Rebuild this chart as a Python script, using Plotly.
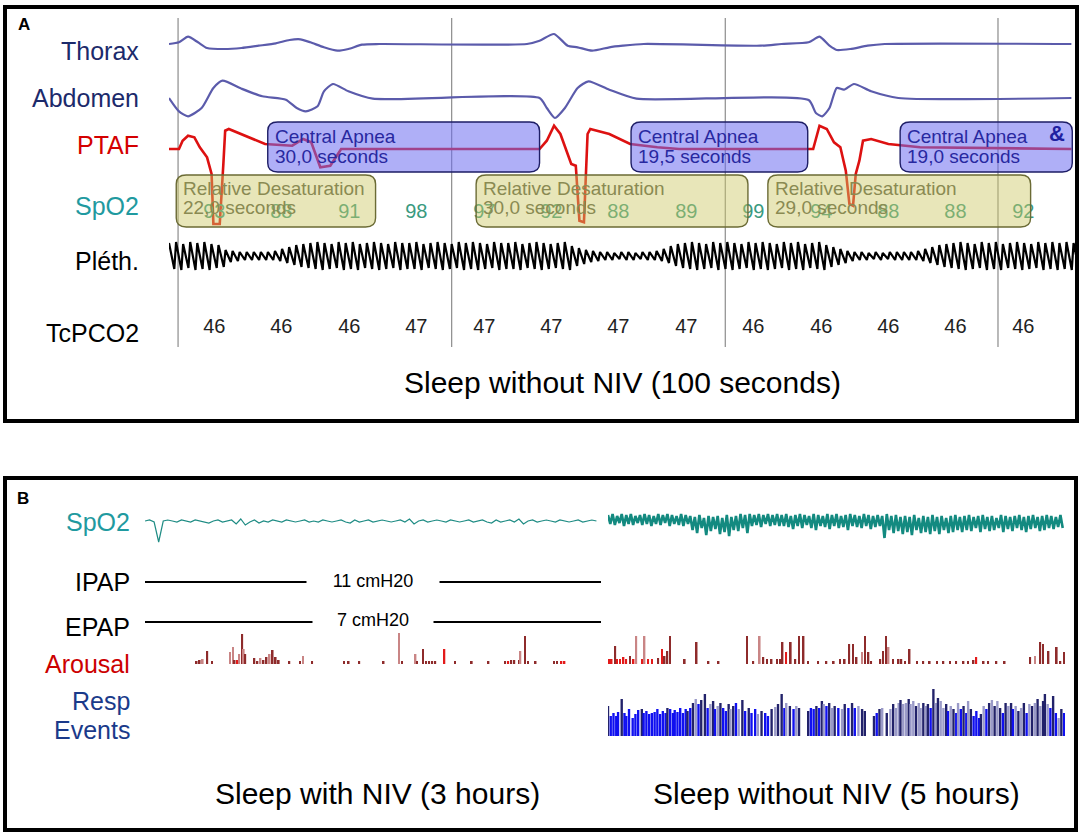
import plotly.graph_objects as go

W, H = 1084, 840
FONT = "Liberation Sans, Arial, sans-serif"

# ---------------- panel A: 100 s of sleep without NIV (time in seconds) ----------------
grid_t = [1.0, 31.2, 61.4, 91.5]

thorax_t = [0, 1.1, 2.1, 3.2, 4.2, 6.1, 8.0, 9.9, 11.8, 13.3, 14.5, 15.6, 17.1, 18.6, 19.8, 21.3, 23.2,
            39.5, 40.9, 42.5, 44.0, 45.1, 46.7, 48.6, 50.1, 52.4, 65.3, 67.6,
            70.6, 71.8, 72.9, 73.7, 75.2, 77.1, 79.0, 99.6]
thorax_v = [0, 1.7, 7.3, 1.7, -4, -5, -4, -1.7, 0.7, 4, 4.7, 1.7, -3.3, -6.7, -5, -0.7, 0,
            0, 3.3, 10, -1.7, -3.3, -6.7, -3.3, -1.7, 0, -1.7, 0,
            1.7, 7.3, -1.7, -6, -5, -1.7, 0, 0]

abdomen_t = [0, 1.1, 2.1, 3.6, 4.9, 5.9, 8.0, 10.3, 12.9, 14.1, 15.1, 16.4, 17.1, 18.1, 19.8, 22.5,
             40.9, 41.7, 42.6, 43.7, 45.1, 46.3, 48.6, 51.6,
             70.6, 71.4, 72.1, 72.9, 73.7, 74.5, 75.6, 77.5, 80.5, 99.6]
abdomen_v = [0, -13.3, -18.3, -10, 10, 17.3, 9.3, 1.7, -1.7, -10, -13.3, -8.3, 6.7, 14, 6.7, -0.7,
             0, -10, -20, -10, 10, 16.7, 8.3, -0.7,
             -2, -15, -18.3, -10, 10, 8.3, 14, 6.7, 0, 0]

ptaf_t = [0, 1.1, 1.5, 2.1, 2.8, 3.4, 4.2, 4.7, 4.9, 5.6, 6.0, 6.2, 6.6, 7.9, 10.6, 13.6, 14.8, 15.7, 16.7, 17.8, 19.0,
          40.9, 41.7, 42.5, 43.2, 44.4, 44.9, 45.3, 45.8, 46.2, 46.5, 48.6, 50.9, 53.9, 56.3,
          71.1, 71.8, 72.6, 73.4, 74.1, 74.7, 75.1, 75.5, 75.8, 76.2, 76.6, 77.5, 79.4, 82.9, 99.6]
ptaf_v = [0, 0, 8.3, 13.3, 11.7, 1.7, -8.3, -25, -75, -75, -15, 18.3, 20, 15, 5, 3.3, 10, 6.7, -18.3, -16.7, 0,
          0, 8.3, 23.3, 15, -15, -16.7, -71.7, -73.3, 15, 20, 15, 5, 1.7, 0,
          0, 23.3, 20, 6.7, 1.7, -21.7, -55, -56.7, -25, -11.7, 8.3, 10, 5, 1.7, 0]

beat_s = 0.78
pleth_amp = [13, 14, 12, 14, 13, 14, 12, 11,
             6, 5, 4, 4, 4, 4, 4, 5,
             7, 9, 11,
             12, 13, 14, 13, 12, 14, 13, 14, 12, 13,
             14, 13, 12, 14, 13, 13, 14, 12, 13, 14,
             13, 12, 14, 13, 14, 13, 12, 14, 13, 13,
             14, 12, 13, 14, 13, 12, 13, 14,
             10, 8, 6,
             5, 4, 4, 3, 4, 4, 3, 4, 4, 5,
             7, 10, 12,
             13, 14, 13, 12, 14, 13, 14, 13, 12, 14,
             13, 14, 13, 12, 14, 13, 14, 12, 13, 14, 11,
             9, 7, 5,
             4, 4, 3, 4, 3, 4, 4, 4, 4, 5,
             7, 9, 11,
             12, 13, 14, 13, 12, 14, 13, 14, 12, 13,
             14, 13, 12, 14, 13, 14, 13, 14, 13, 12]

val_t = [5.0, 12.4, 19.9, 27.3, 34.8, 42.2, 49.6, 57.1, 64.5, 72.0, 79.4, 86.8, 94.3]
spo2_vals = [93, 88, 91, 98, 97, 92, 88, 89, 99, 94, 88, 88, 92]
tcpco2_vals = [46, 46, 46, 47, 47, 47, 47, 47, 46, 46, 46, 46, 46]

apnea_start = [10.9, 51.0, 80.7]
apnea_dur = [30.0, 19.5, 19.0]
desat_start = [0.8, 33.9, 66.1]
desat_dur = [22.0, 30.0, 29.0]

# ---------------- panel B: whole night (time in hours) ----------------
spo2_niv_step = 0.03
spo2_niv = [95.5, 96, 95, 85, 95.5, 96, 95.5, 95, 96, 95.5,
            95, 96, 95.5, 95, 94.5, 95.5, 96, 95, 95.5, 96,
            94, 96.5, 93.5, 95, 96, 94.5, 95.5, 95, 96, 95.5,
            95, 96, 95.5, 95, 95.5, 96, 95, 95.5, 95, 96,
            95.5, 95, 95.5, 96, 95, 94.5, 96, 95, 95.5, 96,
            95, 95.5, 96, 95.5, 95, 95.5, 96, 95, 96.5, 94,
            95.5, 96, 95, 95.5, 96, 95.5, 95, 96, 95.5, 95,
            95.5, 96, 95, 95.5, 96, 95, 94.5, 96, 95, 95.5,
            96, 95, 96.5, 94, 95.5, 96, 95, 95.5, 96, 95.5,
            95, 96, 95.5, 95, 95.5, 96, 95, 95.5, 96, 95.5]

spo2_off_step = 0.05
spo2_off_hi = [98.5, 99, 98, 99, 98.5, 99, 98, 98.5, 99, 98.5, 98, 99, 98.5, 99, 98.5, 98, 99, 98.5,
               98, 97.5, 98.5, 97, 98, 97.5, 98, 97, 98.5, 97.5, 98, 99, 98.5,
               99, 98.5, 99, 98.5, 99, 98.5, 99,
               98.5, 99, 98, 98.5, 99, 98.5, 98, 99, 98.5, 98, 99, 98.5, 99, 98, 98.5, 99, 98.5, 98, 99, 98.5, 98, 98.5,
               98,
               99, 98, 98.5, 97.5, 98, 97.5, 98.5, 97, 98, 97.5, 98.5, 97.5, 98, 97, 98, 98.5, 97.5,
               98, 98.5, 97.5, 98, 98.5, 97.5, 98, 97, 98.5, 98, 97.5, 98, 98.5, 97.5, 98, 98.5, 97.5, 98, 98.5, 98, 97.5, 98.5]
spo2_off_lo = [94, 93.5, 94.5, 93, 94, 93.5, 94.5, 93.5, 94, 93, 94, 93.5, 94.5, 93, 94, 93.5, 93, 94,
               91, 89.5, 92, 88.5, 90.5, 91.5, 89, 90, 88, 91, 90.5, 92, 89.5,
               93, 93.5, 92.5, 94, 93, 93.5, 93,
               93, 92.5, 91.5, 93, 92, 93.5, 92, 91, 93, 92.5, 91.5, 93, 92, 92.5, 91, 93, 92.5, 92, 93, 91.5, 92.5, 93,
               87,
               91, 89.5, 90.5, 89, 90, 88.5, 91, 89.5, 90, 89, 90.5, 89, 91, 89.5, 90, 91, 90,
               91, 90.5, 92, 90, 91.5, 90.5, 91, 92, 90, 91.5, 90.5, 92, 91, 90, 91.5, 92, 90.5, 91, 92, 91.5, 92.5, 92]

ipap_cmh2o = 11
epap_cmh2o = 7

arousal_niv_t = [0.34, 0.36, 0.38, 0.41, 0.44,
                 0.56, 0.58, 0.59, 0.61, 0.62, 0.64, 0.65, 0.66,
                 0.72, 0.74, 0.76, 0.78, 0.80, 0.82, 0.84, 0.86, 0.88,
                 0.95, 1.02, 1.04, 1.10,
                 1.31, 1.34, 1.41,
                 1.57, 1.67, 1.69,
                 1.78, 1.79, 1.83, 1.85, 1.87, 1.89, 1.91, 1.97, 2.04, 2.15, 2.26,
                 2.37, 2.39, 2.41, 2.43, 2.46, 2.47, 2.50, 2.52, 2.57,
                 2.69, 2.71, 2.74, 2.76]
arousal_niv_dur = [3, 4, 5, 13, 3,
                   12, 17, 4, 4, 10, 30, 15, 10,
                   6, 3, 6, 4, 7, 10, 14, 7, 4,
                   3, 3, 8, 3,
                   3, 3, 3,
                   3, 31, 3,
                   10, 3, 15, 3, 3, 3, 3, 15, 3, 3, 3,
                   3, 3, 4, 4, 4, 13, 28, 3, 3,
                   3, 3, 3, 3]
arousal_niv_kind = "ddpdd" "ppdrpdpd" "ddpddpddd" "ddpd" "ddd" "dpd" "pddddddrddd" "drdddpddd" "ddrr"

arousal_off_t = [0.01, 0.04, 0.08, 0.10, 0.13, 0.17, 0.20, 0.24, 0.28, 0.31,
                 0.37, 0.40, 0.44, 0.48, 0.55, 0.59, 0.62, 0.65, 0.68,
                 0.84, 0.97, 1.10, 1.21,
                 1.52, 1.59, 1.66, 1.70, 1.74, 1.79, 1.85, 1.88, 1.91, 1.95, 2.00, 2.05, 2.09, 2.14, 2.19,
                 2.30, 2.39, 2.47, 2.54, 2.59, 2.64, 2.68, 2.72, 2.78, 2.81, 2.85, 2.88,
                 2.98, 3.01, 3.04, 3.07, 3.12, 3.18, 3.21, 3.25, 3.30,
                 3.38, 3.45, 3.52, 3.60, 3.67, 3.74, 3.81, 3.89, 3.94, 4.00, 4.03, 4.11, 4.16, 4.25, 4.34,
                 4.62, 4.67, 4.73, 4.76, 4.82, 4.91, 4.95, 4.99]
arousal_off_dur = [5, 5, 18, 5, 5, 7, 5, 8, 5, 28,
                   5, 28, 5, 5, 6, 15, 8, 13, 28,
                   5, 22, 3, 3,
                   28, 3, 28, 7, 5, 5, 5, 5, 22, 12, 22, 5, 28, 28, 3,
                   3, 3, 3, 5, 5, 20, 20, 7, 12, 28, 12, 3,
                   5, 13, 28, 17, 5, 5, 5, 3, 15,
                   3, 3, 3, 3, 3, 3, 3, 3, 3, 4, 7, 3, 3, 3, 3,
                   7, 8, 22, 20, 13, 17, 3, 12]
arousal_off_kind = ("rrdrrrrdrp" "rprrdrddd" "dddd" "ddpddddddrddddd" "ddddddddpddd"
                    "dddpddddd" "ddddddddddrdddd" "dpdddddd")

resp_t = [0.00, 0.03, 0.06, 0.09, 0.11, 0.15, 0.18, 0.20, 0.23, 0.27, 0.30, 0.33, 0.37, 0.39, 0.42, 0.45,
          0.48, 0.51, 0.54, 0.57, 0.60, 0.63, 0.65, 0.68, 0.71, 0.73, 0.76, 0.79, 0.82, 0.85, 0.87, 0.90,
          0.93, 0.96, 0.99, 1.02, 1.06, 1.09, 1.12, 1.15, 1.17, 1.20, 1.23, 1.26, 1.29, 1.32, 1.34, 1.37,
          1.40, 1.43, 1.47, 1.50, 1.54, 1.57, 1.61, 1.64, 1.68, 1.72, 1.75, 1.79, 1.83, 1.86, 1.90, 1.93,
          1.95, 1.99, 2.03, 2.06, 2.09,
          2.19, 2.22, 2.25, 2.28, 2.31, 2.34, 2.36, 2.39, 2.42, 2.45, 2.48, 2.52, 2.56, 2.59, 2.63, 2.67,
          2.70, 2.74, 2.78, 2.81,
          2.91, 2.94, 2.97, 3.00, 3.05, 3.09, 3.12, 3.15, 3.18, 3.20,
          3.23, 3.26, 3.29, 3.31, 3.34, 3.37, 3.40, 3.42, 3.45, 3.48,
          3.50, 3.53, 3.56, 3.59, 3.61, 3.64, 3.67, 3.70, 3.72, 3.75,
          3.78, 3.81, 3.83, 3.86, 3.89, 3.92, 3.94, 3.97, 4.00, 4.03,
          4.06, 4.08, 4.11, 4.14, 4.17, 4.20, 4.23, 4.26, 4.29, 4.32,
          4.35, 4.38, 4.41, 4.43, 4.46, 4.49, 4.52, 4.55, 4.58, 4.61,
          4.64, 4.67, 4.70, 4.73, 4.76, 4.78, 4.81, 4.84, 4.87, 4.90,
          4.93, 4.96, 4.99]
resp_dur = [30, 20, 23, 20, 24, 37, 23, 20, 27, 18, 22, 26, 27, 23, 25, 22,
            23, 24, 27, 22, 25, 23, 28, 27, 23, 26, 24, 28, 23, 27, 25, 28,
            33, 37, 32, 36, 42, 28, 32, 35, 27, 30, 33, 28, 25, 32, 27, 30,
            33, 27, 36, 25, 28, 23, 27, 22, 25, 23, 20, 27, 29, 32, 42, 28,
            33, 30, 27, 30, 28,
            25, 28, 27, 30, 28, 35, 32, 30, 33, 28, 30, 28, 27, 32, 28, 33,
            28, 30, 27, 25,
            20, 23, 27, 28, 23, 27, 32, 28, 33, 36,
            32, 33, 37, 32, 35, 30, 33, 28, 33, 30,
            32, 28, 47, 33, 38, 35, 28, 32, 25, 30,
            27, 23, 33, 27, 30, 23, 35, 27, 20, 25,
            18, 22, 30, 27, 33, 36, 30, 35, 28, 23,
            33, 30, 33, 27, 30, 25, 28, 33, 23, 32,
            30, 33, 37, 30, 35, 42, 32, 28, 40, 23,
            18, 27, 23]
resp_kind = ("NBBBBNBBBBBBNBBBBBBBBBNBBBBBBBNB"
             "NLBNNBLNBLNBBNLNBLNBNBBLNBBNLNNBLNBLN"
             "NBBNBNLBNLNBLNBNBLNN"
             "NBNLNLNLLNLLNLLNLLNLNBNLNLLNBLNBLBNBLNBBBNLBNLNLNBNLNBLNLNBLNLNLNNLBNBLNB")

# ---------------- layout constants (pixel rows) ----------------
A_ROWS = {"Thorax": 44, "Abdomen": 98, "PTAF": 149, "SpO2": 213, "Pleth": 256, "TcPCO2": 328}
B_SPO2_ROW, B_SPO2_REF, B_SPO2_PX = 522, 95, 2.0
IPAP_ROW, EPAP_ROW = 582, 622
AROUSAL_BASE, RESP_BASE = 664, 736

AROUSAL_COLORS = {"d": "#8e2b2b", "p": "#c98585", "r": "#e31a1a"}
RESP_COLORS = {"B": "#1010f0", "N": "#22226a", "L": "#9a9ac8"}


def rounded(x0, x1, y0, y1, rx=1.1, ry=9):
    return (f"M {x0 + rx},{y0} L {x1 - rx},{y0} Q {x1},{y0} {x1},{y0 + ry} "
            f"L {x1},{y1 - ry} Q {x1},{y1} {x1 - rx},{y1} L {x0 + rx},{y1} "
            f"Q {x0},{y1} {x0},{y1 - ry} L {x0},{y0 + ry} Q {x0},{y0} {x0 + rx},{y0} Z")


fig = go.Figure()

# respiratory channels
for t, v, row, color, width, shape in [
    (thorax_t, thorax_v, A_ROWS["Thorax"], "#5b5bab", 2.2, "spline"),
    (abdomen_t, abdomen_v, A_ROWS["Abdomen"], "#5b5bab", 2.2, "spline"),
    (ptaf_t, ptaf_v, A_ROWS["PTAF"], "#dd1111", 2.6, "linear"),
]:
    fig.add_trace(go.Scatter(
        x=t, y=[row - d for d in v], mode="lines",
        line=dict(color=color, width=width, shape=shape, smoothing=0.6 if shape == "spline" else None),
        hoverinfo="skip"))

# plethysmography: fast upstroke to the peak, slower fall to the trough
pt, pv = [], []
for i, a in enumerate(pleth_amp):
    t0 = i * beat_s
    pt += [t0, t0 + 0.75 * beat_s]
    pv += [A_ROWS["Pleth"] - a, A_ROWS["Pleth"] + a]
fig.add_trace(go.Scatter(x=pt, y=pv, mode="lines", line=dict(color="black", width=2.2), hoverinfo="skip"))

# numeric channels
fig.add_trace(go.Scatter(
    x=val_t, y=[A_ROWS["SpO2"]] * len(val_t), mode="text",
    text=[str(v) for v in spo2_vals], textfont=dict(size=20, color="#3a9a80"), hoverinfo="skip"))
fig.add_trace(go.Scatter(
    x=val_t, y=[A_ROWS["TcPCO2"]] * len(val_t), mode="text",
    text=[str(v) for v in tcpco2_vals], textfont=dict(size=20, color="#222222"), hoverinfo="skip"))

# epoch grid
for g in grid_t:
    fig.add_shape(type="line", xref="x", yref="y", x0=g, x1=g, y0=18, y1=347,
                  line=dict(color="#8c8c8c", width=1.2), layer="below")

# scored events
for s, d in zip(desat_start, desat_dur):
    fig.add_shape(type="path", xref="x", yref="y", path=rounded(s, s + d, 175, 227),
                  fillcolor="rgba(205,200,100,0.45)", line=dict(color="#6b6b35", width=1.4), layer="above")
    fig.add_annotation(x=s, y=189, xref="x", yref="y", text="Relative Desaturation", showarrow=False,
                       xanchor="left", yanchor="middle", xshift=5, font=dict(size=19, color="#8a8a52"))
    fig.add_annotation(x=s, y=208, xref="x", yref="y", text=f"{d:.1f}".replace(".", ",") + " seconds",
                       showarrow=False, xanchor="left", yanchor="middle", xshift=5,
                       font=dict(size=19, color="#8a8a52"))
for s, d in zip(apnea_start, apnea_dur):
    fig.add_shape(type="path", xref="x", yref="y", path=rounded(s, s + d, 122, 172),
                  fillcolor="rgba(110,110,240,0.55)", line=dict(color="#1e1e66", width=1.4), layer="above")
    fig.add_annotation(x=s, y=137, xref="x", yref="y", text="Central Apnea", showarrow=False,
                       xanchor="left", yanchor="middle", xshift=5, font=dict(size=19, color="#2828a0"))
    fig.add_annotation(x=s, y=157, xref="x", yref="y", text=f"{d:.1f}".replace(".", ",") + " seconds",
                       showarrow=False, xanchor="left", yanchor="middle", xshift=5,
                       font=dict(size=19, color="#2828a0"))
fig.add_annotation(x=apnea_start[-1] + apnea_dur[-1], y=134, xref="x", yref="y", text="<b>&</b>",
                   showarrow=False, xanchor="right", yanchor="middle", xshift=-5,
                   font=dict(size=22, color="#2020a0"))

# ---------------- panel B traces ----------------
fig.add_trace(go.Scatter(
    x=[i * spo2_niv_step for i in range(len(spo2_niv))],
    y=[B_SPO2_ROW - (v - B_SPO2_REF) * B_SPO2_PX for v in spo2_niv],
    mode="lines", line=dict(color="#1f8c84", width=1.2), xaxis="x2", yaxis="y2", hoverinfo="skip"))

zt, zv = [], []
for i, (hi, lo) in enumerate(zip(spo2_off_hi, spo2_off_lo)):
    zt += [i * spo2_off_step, (i + 0.5) * spo2_off_step]
    zv += [B_SPO2_ROW - (hi - B_SPO2_REF) * B_SPO2_PX, B_SPO2_ROW - (lo - B_SPO2_REF) * B_SPO2_PX]
fig.add_trace(go.Scatter(x=zt, y=zv, mode="lines", line=dict(color="#138a80", width=2.6),
                         xaxis="x3", yaxis="y2", hoverinfo="skip"))

for row, val, gap in [(IPAP_ROW, ipap_cmh2o, 130), (EPAP_ROW, epap_cmh2o, 118)]:
    fig.add_trace(go.Scatter(x=[0, 3], y=[row, row], mode="lines", line=dict(color="black", width=2),
                             xaxis="x2", yaxis="y2", hoverinfo="skip"))
    fig.add_annotation(x=1.5, y=row, xref="x2", yref="y2", text=f"{val} cmH20", showarrow=False,
                       bgcolor="white", width=gap, yanchor="middle", yshift=1 if row == IPAP_ROW else 2,
                       font=dict(size=18, color="black"))

for xa, t, d, k, w in [("x2", arousal_niv_t, arousal_niv_dur, arousal_niv_kind, 0.011),
                       ("x3", arousal_off_t, arousal_off_dur, arousal_off_kind, 0.018)]:
    fig.add_trace(go.Bar(x=t, y=[-v for v in d], base=AROUSAL_BASE, width=w,
                         marker=dict(color=[AROUSAL_COLORS[c] for c in k], line=dict(width=0)),
                         xaxis=xa, yaxis="y2", hoverinfo="skip"))

fig.add_trace(go.Bar(x=resp_t, y=[-v for v in resp_dur], base=RESP_BASE, width=0.026,
                     marker=dict(color=[RESP_COLORS[c] for c in resp_kind], line=dict(width=0)),
                     xaxis="x3", yaxis="y2", hoverinfo="skip"))

# ---------------- frames, labels, titles ----------------
for x0, y0, x1, y1 in [(5, 7, 1077, 421), (5, 478, 1076, 830)]:
    fig.add_shape(type="rect", xref="paper", yref="paper", x0=x0 / W, x1=x1 / W,
                  y0=1 - y1 / H, y1=1 - y0 / H, line=dict(color="black", width=4), layer="above")

labels_a = [("Thorax", 51, "#1c2a6b"), ("Abdomen", 98, "#1c2a6b"), ("PTAF", 145, "#d40000"),
            ("SpO2", 206, "#1f9aa0"), ("Pléth.", 261, "black"), ("TcPCO2", 333, "black")]
for txt, y, c in labels_a:
    fig.add_annotation(x=141 / W, y=1 - y / H, xref="paper", yref="paper", text=txt, showarrow=False,
                       xanchor="right", yanchor="middle", font=dict(size=25, color=c))

labels_b = [("SpO2", 522, "#1f9aa0"), ("IPAP", 582, "black"), ("EPAP", 627, "black"),
            ("Arousal", 664, "#cc0000"), ("Resp", 701, "#1a3a8a"), ("Events", 730, "#1a3a8a")]
for txt, y, c in labels_b:
    fig.add_annotation(x=132 / W, y=1 - y / H, xref="paper", yref="paper", text=txt, showarrow=False,
                       xanchor="right", yanchor="middle", font=dict(size=25, color=c))

for txt, x, y in [("Sleep without NIV (100 seconds)", 622, 383),
                  ("Sleep with NIV (3 hours)", 377, 793),
                  ("Sleep without NIV (5 hours)", 836, 793)]:
    fig.add_annotation(x=x / W, y=1 - y / H, xref="paper", yref="paper", text=txt, showarrow=False,
                       xanchor="center", yanchor="middle", font=dict(size=30, color="black"))

for txt, x, y in [("A", 24, 24), ("B", 23, 498)]:
    fig.add_annotation(x=x / W, y=1 - y / H, xref="paper", yref="paper", text=f"<b>{txt}</b>",
                       showarrow=False, xanchor="center", yanchor="middle",
                       font=dict(size=17, color="black"))

fig.update_layout(
    width=W, height=H, margin=dict(l=0, r=0, t=0, b=0),
    paper_bgcolor="white", plot_bgcolor="white",
    showlegend=False, barmode="overlay", hovermode=False,
    font=dict(family=FONT),
    xaxis=dict(domain=[169 / W, 1075 / W], range=[0, 100], visible=False, anchor="y"),
    yaxis=dict(domain=[1 - 421 / H, 1 - 7 / H], range=[421, 7], visible=False, anchor="x"),
    xaxis2=dict(domain=[145 / W, 601 / W], range=[0, 3], visible=False, anchor="y2"),
    xaxis3=dict(domain=[608 / W, 1065 / W], range=[0, 5], visible=False, anchor="y2"),
    yaxis2=dict(domain=[1 - 830 / H, 1 - 478 / H], range=[830, 478], visible=False, anchor="x2"),
)

# the page body has a default 8 px margin; drop it so the figure fills the window
fig.write_html("out.html", config={"displayModeBar": False},
               post_script="document.body.style.margin='0px';document.body.style.overflow='hidden';")
